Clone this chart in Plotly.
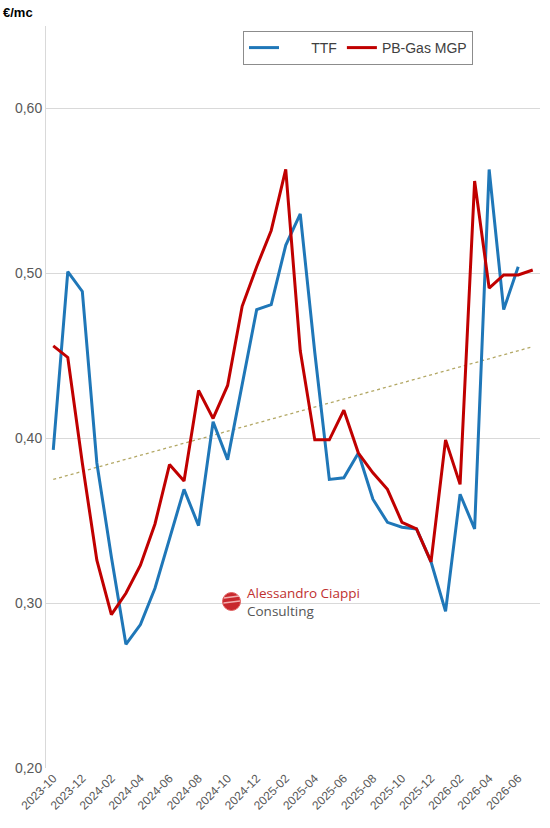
import plotly.graph_objects as go

months = ["2023-10","2023-11","2023-12","2024-01","2024-02","2024-03","2024-04","2024-05",
          "2024-06","2024-07","2024-08","2024-09","2024-10","2024-11","2024-12","2025-01",
          "2025-02","2025-03","2025-04","2025-05","2025-06","2025-07","2025-08","2025-09",
          "2025-10","2025-11","2025-12","2026-01","2026-02","2026-03","2026-04","2026-05",
          "2026-06","2026-07"]

ttf = [0.393, 0.501, 0.489, 0.385, 0.328, 0.275, 0.287, 0.309, 0.339, 0.369,
       0.347, 0.410, 0.387, 0.433, 0.478, 0.481, 0.517, 0.536, 0.452, 0.375,
       0.376, 0.391, 0.363, 0.349, 0.346, 0.345, 0.325, 0.295, 0.366, 0.345,
       0.563, 0.478, 0.504]

pb_gas = [0.456, 0.449, 0.385, 0.326, 0.293, 0.306, 0.323, 0.348, 0.384, 0.374,
          0.429, 0.412, 0.432, 0.480, 0.504, 0.526, 0.563, 0.453, 0.399, 0.399,
          0.417, 0.391, 0.379, 0.369, 0.349, 0.345, 0.325, 0.399, 0.372, 0.556,
          0.491, 0.499, 0.499, 0.502]

trend_x = ["2023-10", "2026-07"]
trend_y = [0.375, 0.4555]

tick_months = months[::2][:17]

fig = go.Figure()
fig.add_trace(go.Scatter(x=trend_x, y=trend_y, mode="lines", showlegend=False,
                         line=dict(color="#B3A865", width=1.3, dash="dot"), hoverinfo="skip"))
fig.add_trace(go.Scatter(x=months[:len(ttf)], y=ttf, mode="lines",
                         name="\u00a0" * 7 + "TTF",
                         line=dict(color="#1F77B8", width=3)))
fig.add_trace(go.Scatter(x=months, y=pb_gas, mode="lines", name="PB-Gas MGP",
                         line=dict(color="#C00000", width=3)))

L, R, T, B = 46, 10, 26, 60
W, H = 550, 828
pw, ph = W - L - R, H - T - B

def px(xp):
    return (xp - L) / pw

def py(yp):
    return (H - B - yp) / ph

fig.update_layout(
    width=W, height=H,
    margin=dict(l=L, r=R, t=T, b=B, autoexpand=False),
    paper_bgcolor="white", plot_bgcolor="white",
    separators=",.",
    font=dict(family="Liberation Sans, Arial, sans-serif", color="#595959"),
    xaxis=dict(type="category", categoryorder="array", categoryarray=months,
               range=[-0.5, len(months) - 0.5], automargin=False,
               tickmode="array", tickvals=tick_months, ticktext=tick_months,
               tickangle=-45, tickfont=dict(size=12, color="#595959"),
               showgrid=False, showline=False, zeroline=False, ticks=""),
    yaxis=dict(range=[0.2, 0.65], dtick=0.1, tick0=0.2, tickformat=".2f",
               automargin=False,
               tickfont=dict(size=14, color="#595959"),
               showgrid=True, gridcolor="#D9D9D9", gridwidth=1,
               showline=True, linecolor="#D9D9D9", linewidth=1,
               zeroline=False, ticks="", ticklen=0),
    legend=dict(orientation="h", xref="container", yref="container",
                x=243 / W, y=1 - 31 / H, xanchor="left", yanchor="top",
                bordercolor="#8C8C8C", borderwidth=1, bgcolor="white",
                font=dict(size=14, color="#404040")),
    showlegend=True,
)

fig.add_annotation(text="<b>€/mc</b>", xref="paper", yref="paper",
                   x=px(1), y=py(12), xanchor="left", yanchor="middle",
                   showarrow=False, font=dict(size=13, color="#000000"))

# logo watermark
fig.add_shape(type="circle", xref="paper", yref="paper",
              x0=px(222.5), x1=px(240.5), y0=py(610.5), y1=py(592.5),
              fillcolor="#C8282D", line=dict(color="#E06060", width=1), layer="above")
fig.add_shape(type="line", xref="paper", yref="paper",
              x0=px(224), x1=px(239), y0=py(598), y1=py(596),
              line=dict(color="#F2B0B0", width=1.5), layer="above")
fig.add_shape(type="line", xref="paper", yref="paper",
              x0=px(223.5), x1=px(240), y0=py(603), y1=py(601),
              line=dict(color="#F2B0B0", width=1.5), layer="above")
fig.add_annotation(text="<span style='color:#C0302F'>Alessandro Ciappi</span><br>Consulting",
                   xref="paper", yref="paper", align="left",
                   x=px(245), y=py(601.5), xanchor="left", yanchor="middle",
                   showarrow=False, font=dict(size=13.5, color="#555555", family="Open Sans, sans-serif"))

fig.write_html("out.html", config={"displayModeBar": False},
               post_script="document.body.style.margin='0';")
